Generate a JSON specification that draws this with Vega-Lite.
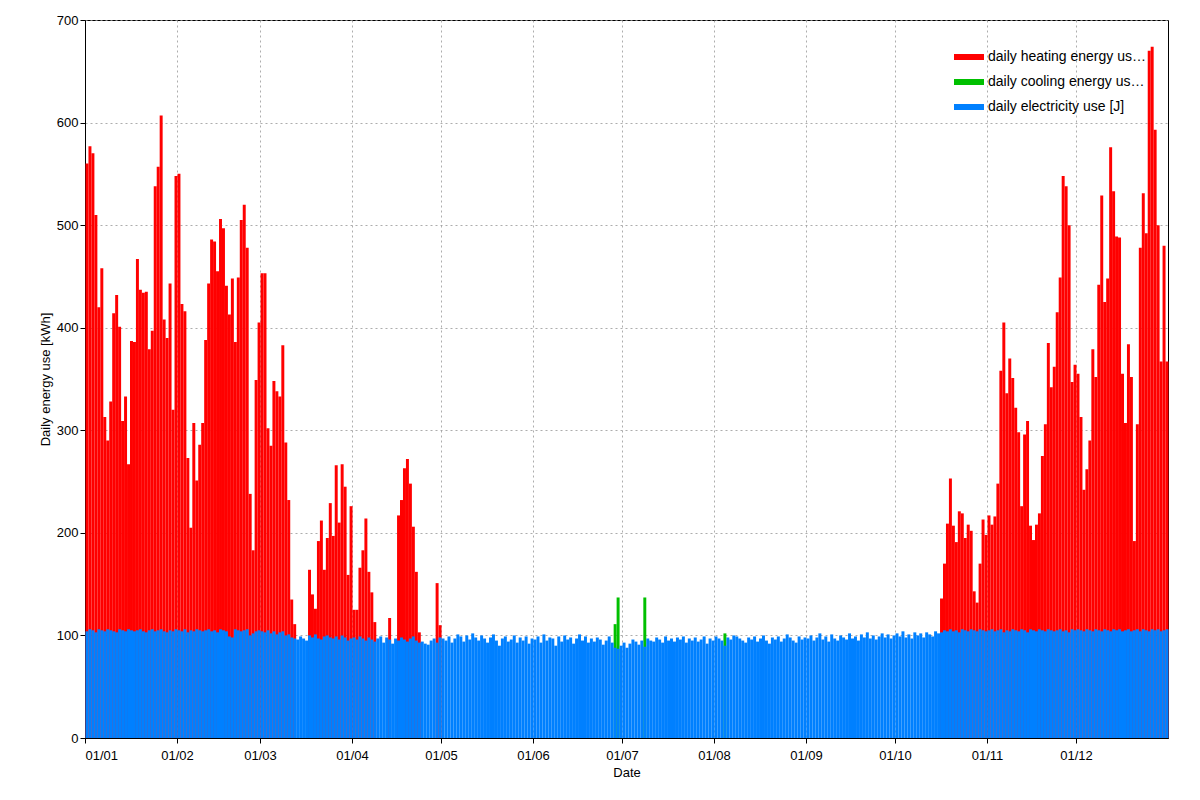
{
  "$schema": "https://vega.github.io/schema/vega-lite/v6.json",
  "width": 1083,
  "height": 718,
  "autosize": "none",
  "padding": {"left": 85, "top": 20, "right": 32, "bottom": 62},
  "config": {
    "font": "Liberation Sans",
    "view": {"stroke": "black", "strokeWidth": 1},
    "bar": {"binSpacing": 0, "continuousBandSize": 3, "strokeWidth": 0},
    "axis": {"labelFontSize": 13, "titleFontSize": 13, "labelColor": "black", "titleColor": "black", "titleFontWeight": "normal", "gridColor": "#999", "gridDash": [2, 3], "gridOpacity": 0.8, "domainColor": "black", "tickColor": "black"}
  },
  "data": {"values": [
{"date":"2009-01-01","e":104,"t":560},{"date":"2009-01-02","e":106,"t":577},{"date":"2009-01-03","e":105,"t":570},{"date":"2009-01-04","e":103,"t":510},{"date":"2009-01-05","e":106,"t":420},{"date":"2009-01-06","e":105,"t":458},{"date":"2009-01-07","e":104,"t":313},{"date":"2009-01-08","e":106,"t":290},{"date":"2009-01-09","e":105,"t":328},{"date":"2009-01-10","e":104,"t":414},{"date":"2009-01-11","e":103,"t":432},{"date":"2009-01-12","e":106,"t":401},{"date":"2009-01-13","e":105,"t":309},{"date":"2009-01-14","e":104,"t":333},{"date":"2009-01-15","e":106,"t":267},{"date":"2009-01-16","e":105,"t":387},{"date":"2009-01-17","e":104,"t":386},{"date":"2009-01-18","e":105,"t":467},{"date":"2009-01-19","e":106,"t":437},{"date":"2009-01-20","e":104,"t":434},{"date":"2009-01-21","e":103,"t":435},{"date":"2009-01-22","e":105,"t":379},{"date":"2009-01-23","e":106,"t":397},{"date":"2009-01-24","e":104,"t":538},{"date":"2009-01-25","e":105,"t":557},{"date":"2009-01-26","e":106,"t":607},{"date":"2009-01-27","e":104,"t":408},{"date":"2009-01-28","e":103,"t":390},{"date":"2009-01-29","e":105,"t":443},{"date":"2009-01-30","e":104,"t":320},{"date":"2009-01-31","e":106,"t":548},
{"date":"2009-02-01","e":105,"t":550},{"date":"2009-02-02","e":104,"t":423},{"date":"2009-02-03","e":106,"t":416},{"date":"2009-02-04","e":103,"t":273},{"date":"2009-02-05","e":105,"t":205},{"date":"2009-02-06","e":104,"t":307},{"date":"2009-02-07","e":106,"t":251},{"date":"2009-02-08","e":105,"t":286},{"date":"2009-02-09","e":104,"t":307},{"date":"2009-02-10","e":105,"t":388},{"date":"2009-02-11","e":106,"t":443},{"date":"2009-02-12","e":104,"t":486},{"date":"2009-02-13","e":105,"t":484},{"date":"2009-02-14","e":103,"t":455},{"date":"2009-02-15","e":106,"t":506},{"date":"2009-02-16","e":105,"t":497},{"date":"2009-02-17","e":104,"t":441},{"date":"2009-02-18","e":99,"t":413},{"date":"2009-02-19","e":98,"t":448},{"date":"2009-02-20","e":106,"t":386},{"date":"2009-02-21","e":105,"t":449},{"date":"2009-02-22","e":104,"t":505},{"date":"2009-02-23","e":105,"t":520},{"date":"2009-02-24","e":106,"t":478},{"date":"2009-02-25","e":100,"t":238},{"date":"2009-02-26","e":102,"t":183},{"date":"2009-02-27","e":104,"t":349},{"date":"2009-02-28","e":105,"t":405},
{"date":"2009-03-01","e":104,"t":453},{"date":"2009-03-02","e":103,"t":453},{"date":"2009-03-03","e":105,"t":302},{"date":"2009-03-04","e":102,"t":285},{"date":"2009-03-05","e":104,"t":348},{"date":"2009-03-06","e":101,"t":338},{"date":"2009-03-07","e":103,"t":333},{"date":"2009-03-08","e":104,"t":383},{"date":"2009-03-09","e":100,"t":288},{"date":"2009-03-10","e":101,"t":232},{"date":"2009-03-11","e":98,"t":135},{"date":"2009-03-12","e":97,"t":111},{"date":"2009-03-13","e":96},{"date":"2009-03-14","e":99},{"date":"2009-03-15","e":97},{"date":"2009-03-16","e":95},{"date":"2009-03-17","e":100,"t":164},{"date":"2009-03-18","e":98,"t":140},{"date":"2009-03-19","e":101,"t":126},{"date":"2009-03-20","e":97,"t":192},{"date":"2009-03-21","e":96,"t":212},{"date":"2009-03-22","e":99,"t":164},{"date":"2009-03-23","e":100,"t":195},{"date":"2009-03-24","e":98,"t":229},{"date":"2009-03-25","e":97,"t":197},{"date":"2009-03-26","e":99,"t":266},{"date":"2009-03-27","e":96,"t":210},{"date":"2009-03-28","e":100,"t":267},{"date":"2009-03-29","e":98,"t":245},{"date":"2009-03-30","e":95,"t":159},{"date":"2009-03-31","e":97,"t":226},
{"date":"2009-04-01","e":98,"t":125},{"date":"2009-04-02","e":96,"t":125},{"date":"2009-04-03","e":99,"t":166},{"date":"2009-04-04","e":97,"t":183},{"date":"2009-04-05","e":95,"t":214},{"date":"2009-04-06","e":98,"t":162},{"date":"2009-04-07","e":96,"t":142},{"date":"2009-04-08","e":94,"t":113},{"date":"2009-04-09","e":97},{"date":"2009-04-10","e":99},{"date":"2009-04-11","e":93},{"date":"2009-04-12","e":98},{"date":"2009-04-13","e":96,"t":117},{"date":"2009-04-14","e":92},{"date":"2009-04-15","e":97},{"date":"2009-04-16","e":95,"t":217},{"date":"2009-04-17","e":98,"t":232},{"date":"2009-04-18","e":96,"t":263},{"date":"2009-04-19","e":94,"t":272},{"date":"2009-04-20","e":97,"t":248},{"date":"2009-04-21","e":99,"t":206},{"date":"2009-04-22","e":95,"t":162},{"date":"2009-04-23","e":93,"t":103},{"date":"2009-04-24","e":94},{"date":"2009-04-25","e":92},{"date":"2009-04-26","e":91},{"date":"2009-04-27","e":95},{"date":"2009-04-28","e":97},{"date":"2009-04-29","e":93,"t":151},{"date":"2009-04-30","e":98,"t":110},
{"date":"2009-05-01","e":97},{"date":"2009-05-02","e":95},{"date":"2009-05-03","e":99},{"date":"2009-05-04","e":93},{"date":"2009-05-05","e":97},{"date":"2009-05-06","e":101},{"date":"2009-05-07","e":99},{"date":"2009-05-08","e":94},{"date":"2009-05-09","e":100},{"date":"2009-05-10","e":96},{"date":"2009-05-11","e":102},{"date":"2009-05-12","e":98},{"date":"2009-05-13","e":95},{"date":"2009-05-14","e":100},{"date":"2009-05-15","e":97},{"date":"2009-05-16","e":93},{"date":"2009-05-17","e":98},{"date":"2009-05-18","e":101},{"date":"2009-05-19","e":95},{"date":"2009-05-20","e":90},{"date":"2009-05-21","e":97},{"date":"2009-05-22","e":99},{"date":"2009-05-23","e":94},{"date":"2009-05-24","e":96},{"date":"2009-05-25","e":100},{"date":"2009-05-26","e":93},{"date":"2009-05-27","e":98},{"date":"2009-05-28","e":95},{"date":"2009-05-29","e":99},{"date":"2009-05-30","e":92},{"date":"2009-05-31","e":97},
{"date":"2009-06-01","e":96},{"date":"2009-06-02","e":99},{"date":"2009-06-03","e":93},{"date":"2009-06-04","e":101},{"date":"2009-06-05","e":95},{"date":"2009-06-06","e":98},{"date":"2009-06-07","e":97},{"date":"2009-06-08","e":90},{"date":"2009-06-09","e":99},{"date":"2009-06-10","e":94},{"date":"2009-06-11","e":100},{"date":"2009-06-12","e":96},{"date":"2009-06-13","e":98},{"date":"2009-06-14","e":92},{"date":"2009-06-15","e":97},{"date":"2009-06-16","e":101},{"date":"2009-06-17","e":95},{"date":"2009-06-18","e":99},{"date":"2009-06-19","e":93},{"date":"2009-06-20","e":97},{"date":"2009-06-21","e":94},{"date":"2009-06-22","e":98},{"date":"2009-06-23","e":96},{"date":"2009-06-24","e":91},{"date":"2009-06-25","e":95},{"date":"2009-06-26","e":99},{"date":"2009-06-27","e":93},{"date":"2009-06-28","e":88,"c":111},{"date":"2009-06-29","e":87,"c":137},{"date":"2009-06-30","e":90},
{"date":"2009-07-01","e":93},{"date":"2009-07-02","e":88},{"date":"2009-07-03","e":92},{"date":"2009-07-04","e":96},{"date":"2009-07-05","e":94},{"date":"2009-07-06","e":91},{"date":"2009-07-07","e":95},{"date":"2009-07-08","e":89,"c":137},{"date":"2009-07-09","e":97},{"date":"2009-07-10","e":95},{"date":"2009-07-11","e":94},{"date":"2009-07-12","e":98},{"date":"2009-07-13","e":96},{"date":"2009-07-14","e":93},{"date":"2009-07-15","e":99},{"date":"2009-07-16","e":95},{"date":"2009-07-17","e":97},{"date":"2009-07-18","e":94},{"date":"2009-07-19","e":98},{"date":"2009-07-20","e":96},{"date":"2009-07-21","e":99},{"date":"2009-07-22","e":93},{"date":"2009-07-23","e":97},{"date":"2009-07-24","e":95},{"date":"2009-07-25","e":98},{"date":"2009-07-26","e":94},{"date":"2009-07-27","e":96},{"date":"2009-07-28","e":99},{"date":"2009-07-29","e":92},{"date":"2009-07-30","e":97},{"date":"2009-07-31","e":95},
{"date":"2009-08-01","e":99},{"date":"2009-08-02","e":97},{"date":"2009-08-03","e":95},{"date":"2009-08-04","e":90,"c":102},{"date":"2009-08-05","e":98},{"date":"2009-08-06","e":96},{"date":"2009-08-07","e":100},{"date":"2009-08-08","e":99},{"date":"2009-08-09","e":97},{"date":"2009-08-10","e":95},{"date":"2009-08-11","e":93},{"date":"2009-08-12","e":98},{"date":"2009-08-13","e":96},{"date":"2009-08-14","e":99},{"date":"2009-08-15","e":94},{"date":"2009-08-16","e":97},{"date":"2009-08-17","e":100},{"date":"2009-08-18","e":95},{"date":"2009-08-19","e":92},{"date":"2009-08-20","e":98},{"date":"2009-08-21","e":96},{"date":"2009-08-22","e":99},{"date":"2009-08-23","e":94},{"date":"2009-08-24","e":97},{"date":"2009-08-25","e":101},{"date":"2009-08-26","e":98},{"date":"2009-08-27","e":95},{"date":"2009-08-28","e":93},{"date":"2009-08-29","e":99},{"date":"2009-08-30","e":96},{"date":"2009-08-31","e":98},
{"date":"2009-09-01","e":97},{"date":"2009-09-02","e":100},{"date":"2009-09-03","e":95},{"date":"2009-09-04","e":98},{"date":"2009-09-05","e":102},{"date":"2009-09-06","e":96},{"date":"2009-09-07","e":99},{"date":"2009-09-08","e":94},{"date":"2009-09-09","e":101},{"date":"2009-09-10","e":97},{"date":"2009-09-11","e":95},{"date":"2009-09-12","e":100},{"date":"2009-09-13","e":98},{"date":"2009-09-14","e":96},{"date":"2009-09-15","e":102},{"date":"2009-09-16","e":97},{"date":"2009-09-17","e":99},{"date":"2009-09-18","e":95},{"date":"2009-09-19","e":101},{"date":"2009-09-20","e":98},{"date":"2009-09-21","e":103},{"date":"2009-09-22","e":97},{"date":"2009-09-23","e":100},{"date":"2009-09-24","e":96},{"date":"2009-09-25","e":99},{"date":"2009-09-26","e":102},{"date":"2009-09-27","e":98},{"date":"2009-09-28","e":101},{"date":"2009-09-29","e":97},{"date":"2009-09-30","e":100},
{"date":"2009-10-01","e":102},{"date":"2009-10-02","e":99},{"date":"2009-10-03","e":104},{"date":"2009-10-04","e":98},{"date":"2009-10-05","e":101},{"date":"2009-10-06","e":97},{"date":"2009-10-07","e":103},{"date":"2009-10-08","e":100},{"date":"2009-10-09","e":102},{"date":"2009-10-10","e":98},{"date":"2009-10-11","e":103},{"date":"2009-10-12","e":101},{"date":"2009-10-13","e":99},{"date":"2009-10-14","e":104},{"date":"2009-10-15","e":102},{"date":"2009-10-16","e":103,"t":136},{"date":"2009-10-17","e":105,"t":170},{"date":"2009-10-18","e":104,"t":209},{"date":"2009-10-19","e":106,"t":253},{"date":"2009-10-20","e":104,"t":207},{"date":"2009-10-21","e":105,"t":191},{"date":"2009-10-22","e":103,"t":221},{"date":"2009-10-23","e":106,"t":219},{"date":"2009-10-24","e":105,"t":195},{"date":"2009-10-25","e":104,"t":208},{"date":"2009-10-26","e":106,"t":202},{"date":"2009-10-27","e":105,"t":143},{"date":"2009-10-28","e":104,"t":132},{"date":"2009-10-29","e":106,"t":170},{"date":"2009-10-30","e":105,"t":213},{"date":"2009-10-31","e":104,"t":198},
{"date":"2009-11-01","e":105,"t":217},{"date":"2009-11-02","e":106,"t":208},{"date":"2009-11-03","e":104,"t":216},{"date":"2009-11-04","e":105,"t":248},{"date":"2009-11-05","e":106,"t":358},{"date":"2009-11-06","e":103,"t":405},{"date":"2009-11-07","e":105,"t":336},{"date":"2009-11-08","e":104,"t":370},{"date":"2009-11-09","e":106,"t":351},{"date":"2009-11-10","e":105,"t":322},{"date":"2009-11-11","e":104,"t":298},{"date":"2009-11-12","e":106,"t":226},{"date":"2009-11-13","e":105,"t":296},{"date":"2009-11-14","e":103,"t":309},{"date":"2009-11-15","e":106,"t":207},{"date":"2009-11-16","e":105,"t":193},{"date":"2009-11-17","e":104,"t":208},{"date":"2009-11-18","e":106,"t":219},{"date":"2009-11-19","e":105,"t":275},{"date":"2009-11-20","e":104,"t":306},{"date":"2009-11-21","e":106,"t":385},{"date":"2009-11-22","e":105,"t":342},{"date":"2009-11-23","e":104,"t":362},{"date":"2009-11-24","e":105,"t":415},{"date":"2009-11-25","e":106,"t":449},{"date":"2009-11-26","e":104,"t":548},{"date":"2009-11-27","e":105,"t":538},{"date":"2009-11-28","e":103,"t":500},{"date":"2009-11-29","e":106,"t":347},{"date":"2009-11-30","e":105,"t":364},
{"date":"2009-12-01","e":106,"t":355},{"date":"2009-12-02","e":105,"t":313},{"date":"2009-12-03","e":104,"t":242},{"date":"2009-12-04","e":106,"t":262},{"date":"2009-12-05","e":105,"t":290},{"date":"2009-12-06","e":104,"t":379},{"date":"2009-12-07","e":106,"t":352},{"date":"2009-12-08","e":105,"t":442},{"date":"2009-12-09","e":104,"t":529},{"date":"2009-12-10","e":106,"t":425},{"date":"2009-12-11","e":105,"t":448},{"date":"2009-12-12","e":104,"t":576},{"date":"2009-12-13","e":106,"t":533},{"date":"2009-12-14","e":105,"t":489},{"date":"2009-12-15","e":106,"t":488},{"date":"2009-12-16","e":104,"t":355},{"date":"2009-12-17","e":105,"t":307},{"date":"2009-12-18","e":106,"t":384},{"date":"2009-12-19","e":104,"t":352},{"date":"2009-12-20","e":105,"t":192},{"date":"2009-12-21","e":106,"t":306},{"date":"2009-12-22","e":104,"t":478},{"date":"2009-12-23","e":106,"t":531},{"date":"2009-12-24","e":105,"t":492},{"date":"2009-12-25","e":104,"t":670},{"date":"2009-12-26","e":106,"t":674},{"date":"2009-12-27","e":105,"t":593},{"date":"2009-12-28","e":106,"t":500},{"date":"2009-12-29","e":104,"t":367},{"date":"2009-12-30","e":105,"t":480},{"date":"2009-12-31","e":106,"t":367}
  ]},
  "encoding": {
    "x": {
      "field": "date", "timeUnit": "yearmonthdate", "type": "temporal", "title": "Date",
      "scale": {"domain": ["2009-01-01", "2010-01-01"]},
      "axis": {"format": "%d/%m", "values": ["2009-01-01", "2009-02-01", "2009-03-01", "2009-04-01", "2009-05-01", "2009-06-01", "2009-07-01", "2009-08-01", "2009-09-01", "2009-10-01", "2009-11-01", "2009-12-01"], "labelPadding": 6}
    }
  },
  "layer": [
    {
      "mark": {"type": "bar", "color": "#ff0000", "binSpacing": 0},
      "encoding": {
        "y": {"field": "t", "type": "quantitative", "title": "Daily energy use [kWh]", "scale": {"domain": [0, 700]}, "axis": {"tickCount": 7, "grid": true}},
        "color": {"datum": "daily heating energy use [J]", "type": "nominal",
          "scale": {"domain": ["daily heating energy use [J]", "daily cooling energy use [J]", "daily electricity use [J]"], "range": ["#ff0000", "#00c000", "#0080ff"]},
          "legend": {"title": null, "orient": "top-right", "labelFontSize": 14, "symbolType": "M-1,-0.2L1,-0.2L1,0.2L-1,0.2Z", "symbolSize": 900, "symbolOpacity": 1, "padding": 4, "rowPadding": 3}}
      }
    },
    {
      "mark": {"type": "bar", "color": "#00c000", "binSpacing": 0},
      "encoding": {
        "y": {"field": "c", "type": "quantitative"},
        "color": {"datum": "daily cooling energy use [J]", "type": "nominal"}
      }
    },
    {
      "mark": {"type": "bar", "color": "#0080ff", "binSpacing": 0},
      "encoding": {
        "y": {"field": "e", "type": "quantitative"},
        "color": {"datum": "daily electricity use [J]", "type": "nominal"}
      }
    }
  ]
}
